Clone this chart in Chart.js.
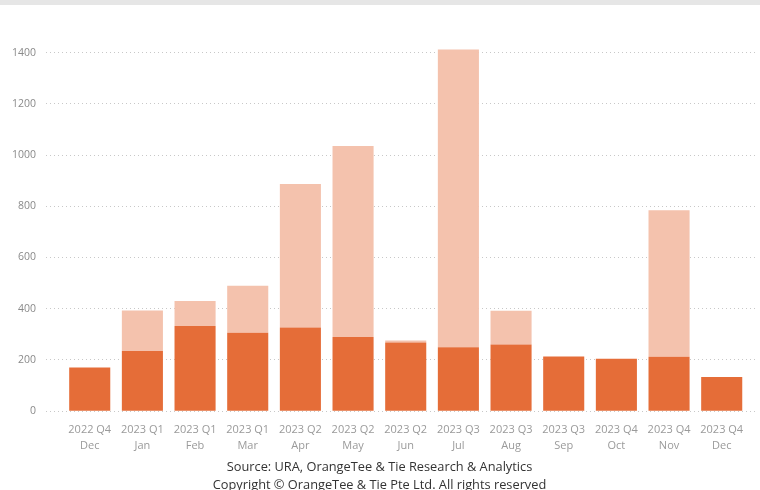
<!DOCTYPE html>
<html>
<head>
<meta charset="utf-8">
<script src="https://cdn.jsdelivr.net/npm/chart.js@4/dist/chart.umd.min.js"></script>
<style>
  html, body { margin: 0; padding: 0; background: #fff; overflow: hidden; }
  #topband { position: absolute; left: 0; top: 0; width: 760px; height: 5px; background: #e6e6e6; }
  #wrap { position: absolute; left: 0; top: 0; width: 760px; height: 494px; }
</style>
</head>
<body>
<div id="wrap"><canvas id="c" width="760" height="494"></canvas></div>
<div id="topband"></div>
<script>
// Monthly new private home sales, split into units from earlier projects and from new launches
const quarterLabels = ['2022 Q4','2023 Q1','2023 Q1','2023 Q1','2023 Q2','2023 Q2','2023 Q2','2023 Q3','2023 Q3','2023 Q3','2023 Q4','2023 Q4','2023 Q4'];
const monthLabels   = ['Dec','Jan','Feb','Mar','Apr','May','Jun','Jul','Aug','Sep','Oct','Nov','Dec'];
const existingProjectSales = [170, 235, 333, 306, 327, 290, 268, 250, 260, 213, 205, 212, 133];
const newLaunchSales       = [0, 158, 97, 184, 560, 745, 8, 1162, 132, 0, 0, 572, 0];
const yTickValues = [0, 200, 400, 600, 800, 1000, 1200, 1400];

const toPoints = arr => arr.map((v, i) => ({ x: i, y: v }));
const FONT = "'Open Sans', 'Noto Sans', sans-serif";

new Chart(document.getElementById('c'), {
  type: 'bar',
  data: {
    datasets: [
      { label: 'Existing projects', data: toPoints(existingProjectSales), backgroundColor: '#e56d38' },
      { label: 'New launches', data: toPoints(newLaunchSales), backgroundColor: '#f4c2ad' }
    ]
  },
  options: {
    responsive: false,
    animation: false,
    categoryPercentage: 1,
    barPercentage: 0.78,
    layout: { padding: { left: 2, right: 3, top: 27, bottom: 0 } },
    plugins: {
      legend: { display: false },
      tooltip: { enabled: false },
      title: {
        display: true,
        position: 'bottom',
        text: ['Source: URA, OrangeTee & Tie Research & Analytics', 'Copyright \u00A9 OrangeTee & Tie Pte Ltd. All rights reserved'],
        color: '#333333',
        font: { family: FONT, size: 12.8, weight: 'normal', lineHeight: 1.4 },
        padding: { top: 2, bottom: 0 }
      }
    },
    scales: {
      x: {
        type: 'linear',
        stacked: true,
        min: -0.83,
        max: 12.67,
        offset: false,
        grid: { display: false },
        border: { display: false },
        afterBuildTicks: s => { s.ticks = quarterLabels.map((_, i) => ({ value: i })); },
        ticks: {
          autoSkip: false,
          maxRotation: 0,
          padding: 2,
          color: '#9a9a9a',
          font: { family: FONT, size: 11, lineHeight: 1.5 },
          callback: v => [quarterLabels[v], monthLabels[v]]
        }
      },
      y: {
        stacked: true,
        min: 0,
        max: 1500,
        border: { display: false, dash: [1, 3] },
        grid: { color: '#c8c8c8', drawTicks: false, lineWidth: 1 },
        afterBuildTicks: s => { s.ticks = yTickValues.map(v => ({ value: v })); },
        ticks: {
          padding: 10,
          color: '#8a8a8a',
          font: { family: FONT, size: 10.5 },
          callback: v => String(v)
        }
      }
    }
  }
});
</script>
</body>
</html>
